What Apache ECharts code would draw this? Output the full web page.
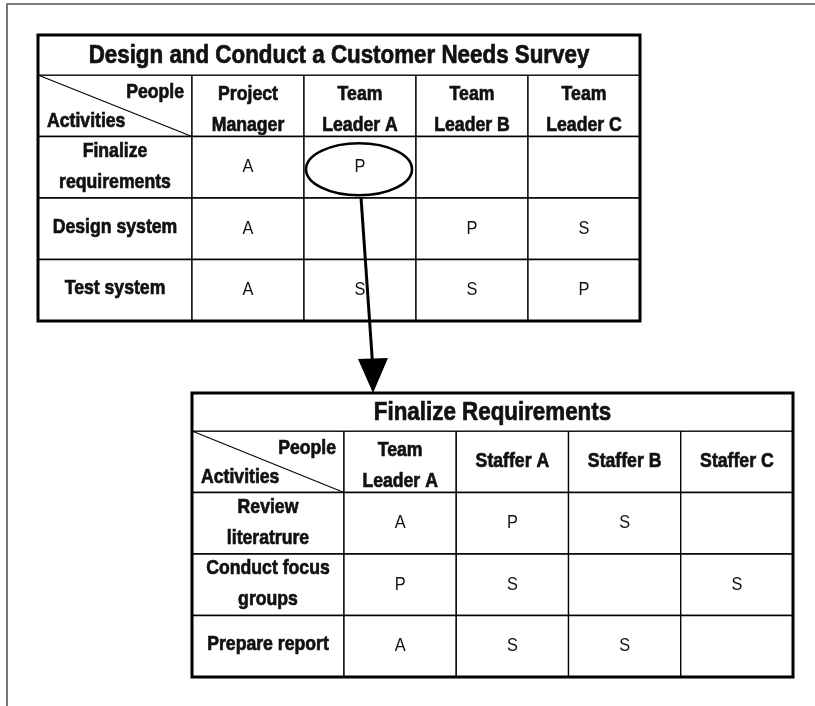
<!DOCTYPE html>
<html>
<head>
<meta charset="utf-8">
<style>
  html, body { margin: 0; padding: 0; background: #fff; }
  #chart { width: 815px; height: 706px; }
</style>
<script src="https://cdn.jsdelivr.net/npm/echarts@6/dist/echarts.min.js"></script>
</head>
<body>
<div id="chart"></div>
<script>
// ---- data ----
const title1 = 'Design and Conduct a Customer Needs Survey';
const people1 = ['Project\nManager', 'Team\nLeader A', 'Team\nLeader B', 'Team\nLeader C'];
const activities1 = ['Finalize\nrequirements', 'Design system', 'Test system'];
const roles1 = [
  ['A', 'P', '', ''],
  ['A', '', 'P', 'S'],
  ['A', 'S', 'S', 'P']
];

const title2 = 'Finalize Requirements';
const people2 = ['Team\nLeader A', 'Staffer A', 'Staffer B', 'Staffer C'];
const activities2 = ['Review\nliteratrure', 'Conduct focus\ngroups', 'Prepare report'];
const roles2 = [
  ['A', 'P', 'S', ''],
  ['P', 'S', '', 'S'],
  ['A', 'S', 'S', '']
];

const cornerLabels = ['People', 'Activities'];
// highlighted cell in table 1 (activity index, person index) that is expanded into table 2
const highlight = { activity: 0, person: 1 };

// ---- styling / layout ----
const FONT = "'Liberation Sans',Arial,sans-serif";
const HEAD_SIZE = 21, CELL_SIZE = 19, TITLE_SIZE = 26;
const SX_BOLD = 0.84, SX_REG = 0.86, SX_TITLE = 0.86;
const LINE_W = 1.3;

const layout1 = { left: 38, top: 35, titleH: 40, labelW: 154, dataW: 448, bodyH: 246 };
const layout2 = { left: 192, top: 393, titleH: 38, labelW: 152, dataW: 449, bodyH: 246 };

const chart = echarts.init(document.getElementById('chart'), null, { renderer: 'canvas' });

function cellRect(api) {
  const c = api.coord([api.value(0), api.value(1)]);
  const s = api.size([1, 1]);
  return { x: c[0] - s[0] / 2, y: c[1] - s[1] / 2, w: s[0], h: s[1], cx: c[0], cy: c[1] };
}

function txt(x, y, text, align, bold, size, lh, sx) {
  return {
    type: 'text', x: x, y: y, scaleX: sx || (bold ? SX_BOLD : SX_REG), scaleY: 1,
    style: { text: text, align: align, verticalAlign: 'middle', fontFamily: FONT,
      fontWeight: bold ? 'bold' : 'normal', fontSize: size, lineHeight: lh || size * 1.2,
      fill: '#111', stroke: bold ? '#111' : null, lineWidth: bold ? 0.7 : 0 }
  };
}

function makeRender(data) {
  return function (params, api) {
    const item = data[params.dataIndex];
    const kind = item[3];
    const r = cellRect(api);
    const children = [{
      type: 'rect',
      shape: { x: r.x, y: r.y, width: r.w, height: r.h },
      style: { fill: '#fff', stroke: '#000', lineWidth: LINE_W }
    }];
    if (kind === 'corner') {
      children.push({
        type: 'line',
        shape: { x1: r.x, y1: r.y, x2: r.x + r.w, y2: r.y + r.h },
        style: { stroke: '#000', lineWidth: 1.1 }
      });
      children.push(txt(r.x + r.w - 8, r.y + 17, cornerLabels[0], 'right', true, HEAD_SIZE));
      children.push(txt(r.x + 9, r.y + r.h - 15, cornerLabels[1], 'left', true, HEAD_SIZE));
    } else if (item[2]) {
      const bold = kind !== 'body';
      const multi = item[2].indexOf('\n') >= 0;
      let dy = 0;
      if (kind === 'colhead') dy = multi ? 4 : -1;
      if (kind === 'rowhead') dy = multi ? -1 : -2;
      children.push(txt(r.cx, r.cy + dy, item[2], 'center', bold,
        bold ? HEAD_SIZE : CELL_SIZE, 31));
    }
    return { type: 'group', children: children };
  };
}

const grids = [], xAxes = [], yAxes = [], series = [];

function addTable(lay, people, activities, roles) {
  const gi = grids.length;
  const top = lay.top + lay.titleH;
  grids.push({ left: lay.left, top: top, width: lay.labelW, height: lay.bodyH, containLabel: false });
  grids.push({ left: lay.left + lay.labelW, top: top, width: lay.dataW, height: lay.bodyH, containLabel: false });
  const yCats = ['header'].concat(activities);
  xAxes.push({ type: 'category', gridIndex: gi, data: ['label'], show: false });
  xAxes.push({ type: 'category', gridIndex: gi + 1, data: people, show: false });
  yAxes.push({ type: 'category', gridIndex: gi, data: yCats, inverse: true, show: false });
  yAxes.push({ type: 'category', gridIndex: gi + 1, data: yCats, inverse: true, show: false });

  const labelData = [[0, 0, '', 'corner']];
  activities.forEach((a, i) => labelData.push([0, i + 1, a, 'rowhead']));
  const cellData = [];
  people.forEach((p, j) => cellData.push([j, 0, p, 'colhead']));
  roles.forEach((row, i) => row.forEach((v, j) => cellData.push([j, i + 1, v, 'body'])));

  series.push({
    type: 'custom', xAxisIndex: gi, yAxisIndex: gi, data: labelData,
    encode: { x: 0, y: 1 }, renderItem: makeRender(labelData), silent: true, clip: false
  });
  series.push({
    type: 'custom', xAxisIndex: gi + 1, yAxisIndex: gi + 1, data: cellData,
    encode: { x: 0, y: 1 }, renderItem: makeRender(cellData), silent: true, clip: false
  });
  return gi;
}

const g1 = addTable(layout1, people1, activities1, roles1);
const g2 = addTable(layout2, people2, activities2, roles2);

function tableFrame(lay, title) {
  const w = lay.labelW + lay.dataW, h = lay.titleH + lay.bodyH;
  const t = txt(lay.left + w / 2, lay.top + lay.titleH / 2 + 1, title, 'center', true, TITLE_SIZE, null, SX_TITLE);
  t.z = 11;
  return [
    { type: 'rect', z: 10, shape: { x: lay.left, y: lay.top, width: w, height: lay.titleH },
      style: { fill: '#fff', stroke: '#000', lineWidth: 1 } },
    t,
    { type: 'rect', z: 50, shape: { x: lay.left, y: lay.top, width: w, height: h },
      style: { fill: null, stroke: '#000', lineWidth: 3 } }
  ];
}

chart.setOption({
  backgroundColor: '#fff',
  animation: false,
  grid: grids,
  xAxis: xAxes,
  yAxis: yAxes,
  series: series
});

// ellipse on the highlighted cell and arrow down to table 2
const cc = chart.convertToPixel({ gridIndex: g1 + 1 }, [highlight.person, highlight.activity + 1]);
const rx = 53, ry = 26;
const tipX = 373, tipY = layout2.top;
const startX = cc[0] + 1, startY = cc[1] + ry + 4;
const headLen = 34, headHalf = 14;
chart.setOption({
  graphic: [
    { type: 'polyline', z: 1, shape: { points: [[7, 706], [7, 4], [815, 4]] },
      style: { fill: null, stroke: '#555', lineWidth: 1.6 } }
  ].concat(tableFrame(layout1, title1), tableFrame(layout2, title2), [
    { type: 'ellipse', z: 60, shape: { cx: cc[0] - 1, cy: cc[1] + 2, rx: rx, ry: ry },
      style: { fill: null, stroke: '#000', lineWidth: 2.6 } },
    { type: 'line', z: 60, shape: { x1: startX, y1: startY, x2: tipX - 0.5, y2: tipY - headLen + 4 },
      style: { stroke: '#000', lineWidth: 3 } },
    { type: 'polygon', z: 60, shape: { points: [[tipX, tipY], [tipX - headHalf - 1, tipY - headLen], [tipX + headHalf + 1, tipY - headLen - 1]] },
      style: { fill: '#000', stroke: null } }
  ])
});
</script>
</body>
</html>
